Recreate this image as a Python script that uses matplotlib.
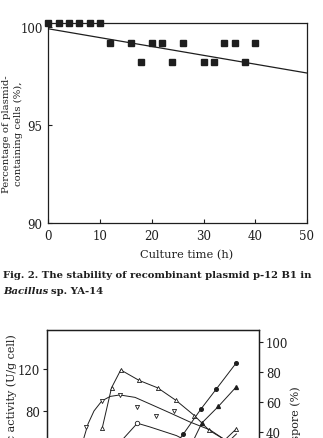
import matplotlib
matplotlib.use("Agg")
import matplotlib.pyplot as plt

plt.rcParams['font.family'] = ['DejaVu Serif']
INK = '#1e1e1e'

# Fig. 2: plasmid stability
time_h = [0, 2, 4, 6, 8, 10, 12, 16, 18, 20, 22, 24, 26, 30, 32, 34, 36, 38, 40]
plasmid_pct = [100.2, 100.2, 100.2, 100.2, 100.2, 100.2,
               99.2, 99.2, 98.2, 99.2, 99.2, 98.2, 99.2, 98.2, 98.2, 99.2, 99.2, 98.2, 99.2]
fit_x = [0, 50]
fit_y = [99.92, 97.66]

# lower figure (cut off by the page edge)
a_x = [12, 14, 16, 20, 24, 28, 32, 35.2, 38.6, 41.1]
a_y = [64, 102, 119, 109, 102, 90, 75.5, 61.5, 52.5, 63]
b_x = [8.5, 11.9, 15.8, 19.6, 23.6, 27.5]
b_y = [64.8, 89.5, 95.2, 83.3, 75.2, 80]
b_curve_x = [8.0, 8.9, 10.2, 11.9, 13.7, 15.8, 19.1, 22.3, 26.7, 31.0, 35.4, 39.3, 41.1]
b_curve_y = [54.3, 67.6, 80, 89.5, 93.8, 95.2, 92.9, 86.7, 78.1, 69.5, 61.9, 50.5, 58.1]
c_x = [16.5, 19.6, 22.3, 28.1, 29.9]
c_y = [53.3, 68.3, 64.8, 56.5, 52.4]
d_x = [28.4, 29.6, 33.4, 36.7, 41.1]
d_y = [34, 38.7, 55.3, 68.5, 86.2]
e_x = [31.7, 33.6, 37.2, 41.1]
e_y = [34, 46, 57.1, 70.2]

W, H = 323, 439
fig = plt.figure(figsize=(W / 100, H / 100), dpi=100)
fig.patch.set_facecolor('white')


def box(l, t, r, b):
    return [l / W, 1 - b / H, (r - l) / W, (b - t) / H]


ax = fig.add_axes(box(48.3, 24.3, 307, 224))
ax.plot(fit_x, fit_y, color=INK, lw=0.9)
ax.plot(time_h, plasmid_pct, ls='none', marker='s', ms=4.2, color=INK, clip_on=False)
ax.set_xlim(0, 50)
ax.set_ylim(90, 100.2)
ax.set_xticks([0, 10, 20, 30, 40, 50])
ax.set_yticks([90, 95, 100])
ax.tick_params(direction='in', length=3, width=0.8, labelsize=8.5, colors=INK, pad=4)
for s in ax.spines.values():
    s.set_linewidth(0.9)
    s.set_color(INK)
fig.text(187 / W, 1 - 255 / H, 'Culture time (h)', ha='center', va='center', fontsize=8.2, color=INK)
fig.text(12.5 / W, 1 - 134 / H, 'Percentage of plasmid-\ncontaining cells (%),', rotation=90,
         ha='center', va='center', fontsize=7.3, color=INK, linespacing=1.5)

cap1 = fig.text(3 / W, 1 - 276 / H, 'Fig. 2. The stability of recombinant plasmid p-12 B1 in',
                ha='left', va='center', fontsize=7.2, fontweight='bold', color=INK)
cap2 = fig.text(3 / W, 1 - 291 / H, 'Bacillus', ha='left', va='center', fontsize=7.2,
                fontweight='bold', fontstyle='italic', color=INK)
fig.canvas.draw()
bb = cap2.get_window_extent()
fig.text((bb.x1 + 3) / W, 1 - 291 / H, 'sp. YA-14', ha='left', va='center', fontsize=7.2,
         fontweight='bold', color=INK)

# lower chart, runs off the bottom of the page
ax2 = fig.add_axes(box(47, 331, 259, 496))
ax2.set_xlim(0, 46)
ax2.set_ylim(0, 157)
ax2.set_xticks([])
ax2.set_yticks([80, 120])
ax2.tick_params(direction='out', length=3, width=0.8, labelsize=8.5, colors=INK, pad=2)
ax2.plot(a_x, a_y, color=INK, lw=0.7, marker='^', ms=3, mfc='white', mew=0.6)
ax2.plot(b_curve_x, b_curve_y, color=INK, lw=0.7)
ax2.plot(b_x, b_y, ls='none', color=INK, marker='v', ms=3, mfc='white', mew=0.6)
ax2.plot(c_x, c_y, color=INK, lw=0.7, marker='o', ms=3.2, mfc='white', mew=0.6, markevery=[1])
for s in ax2.spines.values():
    s.set_linewidth(0.9)
    s.set_color(INK)

ax3 = ax2.twinx()
ax3.set_ylim(-2, 108)
ax3.set_yticks([40, 60, 80, 100])
ax3.tick_params(direction='out', length=3, width=0.8, labelsize=8.5, colors=INK, pad=2)
ax3.plot(d_x, d_y, color=INK, lw=0.7, marker='o', ms=2.6, markevery=[1, 2, 3, 4])
ax3.plot(e_x, e_y, color=INK, lw=0.7, marker='^', ms=2.8, markevery=[1, 2, 3])
for s in ax3.spines.values():
    s.set_linewidth(0.9)
    s.set_color(INK)

fig.text(12 / W, 1 - 334 / H, 'Specific activity (U/g cell)', rotation=90, ha='center', va='top',
         fontsize=8, color=INK)
fig.text(296 / W, 1 - 386 / H, 'Prespore (%)', rotation=90, ha='center', va='top',
         fontsize=8, color=INK)

fig.savefig('out.png', dpi=100, facecolor='white')
